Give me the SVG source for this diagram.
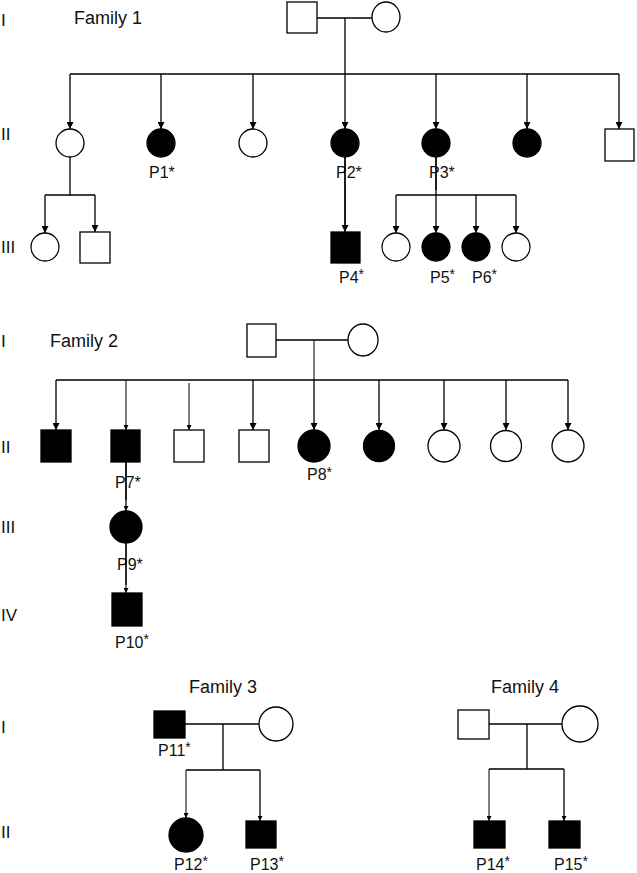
<svg xmlns="http://www.w3.org/2000/svg" width="637" height="873" viewBox="0 0 637 873">
<style>
.ln{stroke:#000;stroke-width:1.3;fill:none}
.thin{stroke:#000;stroke-width:1;fill:none}
.open{fill:#fff;stroke:#000;stroke-width:1.3}
.aff{fill:#000;stroke:#000;stroke-width:1.3}
text{font-family:"Liberation Sans",Arial,sans-serif;fill:#111}
.fam{font-size:18px}
.gen{font-size:17px}
.lab{font-size:16px}
.sup{font-size:14px}
</style>
<defs>
<marker id="ah" viewBox="0 0 8 8" refX="8" refY="4" markerWidth="7" markerHeight="7" markerUnits="userSpaceOnUse" orient="auto">
<path d="M0,0 L8,4 L0,8 z" fill="#000"/>
</marker>
<marker id="ahs" viewBox="0 0 8 8" refX="8" refY="4" markerWidth="5" markerHeight="5" markerUnits="userSpaceOnUse" orient="auto">
<path d="M0,0 L8,4 L0,8 z" fill="#000"/>
</marker>
</defs>
<rect width="637" height="873" fill="#fff"/>

<g id="generation-labels">
<text class="gen" x="1" y="26">I</text>
<text class="gen" x="1" y="140">II</text>
<text class="gen" x="1" y="253">III</text>
<text class="gen" x="1" y="347">I</text>
<text class="gen" x="1" y="453">II</text>
<text class="gen" x="1" y="533">III</text>
<text class="gen" x="1" y="621">IV</text>
<text class="gen" x="1" y="733">I</text>
<text class="gen" x="1" y="838">II</text>
</g>

<g id="family-titles">
<text class="fam" x="74" y="24">Family 1</text>
<text class="fam" x="50" y="347">Family 2</text>
<text class="fam" x="189" y="693">Family 3</text>
<text class="fam" x="491" y="693">Family 4</text>
</g>

<g id="connectors">
<!-- Family 1 -->
<path class="ln" d="M317,18 H372 M345,18 V74 M70,74 H619"/>
<path class="ln" marker-end="url(#ah)" d="M70,74 V129"/>
<path class="ln" marker-end="url(#ah)" d="M161,74 V129"/>
<path class="ln" marker-end="url(#ah)" d="M253,74 V129"/>
<path class="ln" marker-end="url(#ah)" d="M345,74 V129"/>
<path class="ln" marker-end="url(#ah)" d="M436,74 V129"/>
<path class="ln" marker-end="url(#ah)" d="M527,74 V129"/>
<path class="ln" marker-end="url(#ah)" d="M619,74 V129"/>
<path class="ln" d="M70,157 V195 M45,195 H95"/>
<path class="ln" marker-end="url(#ah)" d="M45,195 V233"/>
<path class="ln" marker-end="url(#ah)" d="M95,195 V232"/>
<path class="ln" marker-end="url(#ah)" d="M345,157 V232"/>
<path class="ln" d="M396,195 H516"/>
<path class="ln" marker-end="url(#ah)" d="M436,157 V233"/>
<path class="ln" marker-end="url(#ah)" d="M396,195 V233"/>
<path class="ln" marker-end="url(#ah)" d="M476,195 V233"/>
<path class="ln" marker-end="url(#ah)" d="M516,195 V233"/>
<!-- Family 2 -->
<path class="ln" d="M276,340 H348 M56,380 H568"/>
<path class="thin" d="M314,340 V380"/>
<path class="ln" marker-end="url(#ah)" d="M56,380 V430"/>
<path class="thin" marker-end="url(#ahs)" d="M126,380 V430"/>
<path class="thin" marker-end="url(#ahs)" d="M189,383 V430"/>
<path class="ln" marker-end="url(#ah)" d="M253,380 V430"/>
<path class="ln" marker-end="url(#ah)" d="M314,380 V430"/>
<path class="ln" marker-end="url(#ah)" d="M379,380 V430"/>
<path class="ln" marker-end="url(#ah)" d="M444,380 V430"/>
<path class="ln" marker-end="url(#ah)" d="M506,380 V430"/>
<path class="ln" marker-end="url(#ah)" d="M568,380 V430"/>
<path class="ln" marker-end="url(#ahs)" d="M126,462 V511"/>
<path class="thin" marker-end="url(#ahs)" d="M126,543 V593"/>
<!-- Family 3 -->
<path class="ln" d="M185,724 H259 M223,724 V770 M186,770 H260"/>
<path class="thin" marker-end="url(#ahs)" d="M186,770 V818"/>
<path class="ln" marker-end="url(#ahs)" d="M260,770 V821"/>
<!-- Family 4 -->
<path class="ln" d="M489,724 H562 M527,724 V769 M489,769 H564"/>
<path class="thin" marker-end="url(#ahs)" d="M489,769 V821"/>
<path class="ln" marker-end="url(#ahs)" d="M564,769 V821"/>
</g>

<!-- Family 1 nodes -->
<g id="f1-I-father"><rect class="open" x="287" y="2" width="30" height="31"/></g>
<g id="f1-I-mother"><ellipse class="open" cx="386" cy="17" rx="14" ry="15"/></g>
<g id="f1-II-1"><circle class="open" cx="70" cy="143" r="14"/></g>
<g id="f1-II-P1"><circle class="aff" cx="161" cy="143" r="14"/><text class="lab" x="149" y="178">P1*</text></g>
<g id="f1-II-3"><circle class="open" cx="253" cy="143" r="14"/></g>
<g id="f1-II-P2"><circle class="aff" cx="345" cy="143" r="14"/><text class="lab" x="336" y="178">P2*</text></g>
<g id="f1-II-P3"><circle class="aff" cx="436" cy="143" r="14"/><text class="lab" x="429" y="178">P3*</text></g>
<g id="f1-II-6"><circle class="aff" cx="527" cy="143" r="14"/></g>
<g id="f1-II-7"><rect class="open" x="605" y="129" width="29" height="32"/></g>
<g id="f1-III-1"><circle class="open" cx="45" cy="247" r="14"/></g>
<g id="f1-III-2"><rect class="open" x="80" y="232" width="30" height="31"/></g>
<g id="f1-III-P4"><rect class="aff" x="331" y="232" width="29" height="31"/><text class="lab" x="339" y="283">P4<tspan class="sup" dy="-4">*</tspan></text></g>
<g id="f1-III-4"><circle class="open" cx="396" cy="247" r="14"/></g>
<g id="f1-III-P5"><circle class="aff" cx="436" cy="247" r="14"/><text class="lab" x="430" y="283">P5<tspan class="sup" dy="-4">*</tspan></text></g>
<g id="f1-III-P6"><circle class="aff" cx="476" cy="247" r="14"/><text class="lab" x="472" y="283">P6<tspan class="sup" dy="-4">*</tspan></text></g>
<g id="f1-III-7"><circle class="open" cx="516" cy="247" r="14"/></g>

<!-- Family 2 nodes -->
<g id="f2-I-father"><rect class="open" x="247" y="324" width="29" height="33"/></g>
<g id="f2-I-mother"><ellipse class="open" cx="363" cy="340" rx="15" ry="16"/></g>
<g id="f2-II-1"><rect class="aff" x="41" y="430" width="30" height="32"/></g>
<g id="f2-II-P7"><rect class="aff" x="111" y="430" width="29" height="32"/><text class="lab" x="115" y="488">P7*</text></g>
<g id="f2-II-3"><rect class="open" x="174" y="430" width="30" height="32"/></g>
<g id="f2-II-4"><rect class="open" x="239" y="430" width="30" height="32"/></g>
<g id="f2-II-P8"><circle class="aff" cx="314" cy="446" r="16"/><text class="lab" x="307" y="480">P8<tspan class="sup" dy="-3">*</tspan></text></g>
<g id="f2-II-6"><circle class="aff" cx="379" cy="446" r="15.5"/></g>
<g id="f2-II-7"><circle class="open" cx="444" cy="446" r="16"/></g>
<g id="f2-II-8"><circle class="open" cx="506" cy="446" r="15.5"/></g>
<g id="f2-II-9"><circle class="open" cx="568" cy="446" r="16"/></g>
<g id="f2-III-P9"><circle class="aff" cx="126" cy="527" r="16"/><text class="lab" x="117" y="570">P9*</text></g>
<g id="f2-IV-P10"><rect class="aff" x="112" y="593" width="30" height="33"/><text class="lab" x="115" y="648">P10<tspan class="sup" dy="-4">*</tspan></text></g>

<!-- Family 3 nodes -->
<g id="f3-I-P11"><rect class="aff" x="154" y="711" width="31" height="27"/><text class="lab" x="158" y="756">P11<tspan class="sup" dy="-4">*</tspan></text></g>
<g id="f3-I-mother"><circle class="open" cx="276" cy="724" r="17"/></g>
<g id="f3-II-P12"><circle class="aff" cx="186" cy="835" r="17"/><text class="lab" x="174" y="870">P12<tspan class="sup" dy="-4">*</tspan></text></g>
<g id="f3-II-P13"><rect class="aff" x="246" y="821" width="30" height="27"/><text class="lab" x="250" y="870">P13<tspan class="sup" dy="-4">*</tspan></text></g>

<!-- Family 4 nodes -->
<g id="f4-I-father"><rect class="open" x="458" y="710" width="31" height="29"/></g>
<g id="f4-I-mother"><circle class="open" cx="580" cy="724" r="18"/></g>
<g id="f4-II-P14"><rect class="aff" x="474" y="821" width="31" height="27"/><text class="lab" x="476" y="870">P14<tspan class="sup" dy="-4">*</tspan></text></g>
<g id="f4-II-P15"><rect class="aff" x="549" y="821" width="31" height="27"/><text class="lab" x="554" y="870">P15<tspan class="sup" dy="-4">*</tspan></text></g>

<!-- lines drawn over labels as in reference -->
<g id="overlay-connectors">
<path class="ln" d="M345,157 V225 M436,157 V190 M126,462 V500 M126,543 V585"/>
</g>
</svg>
